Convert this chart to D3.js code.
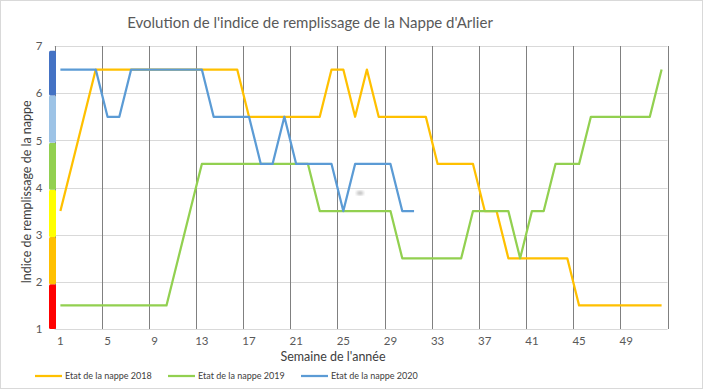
<!DOCTYPE html>
<html>
<head>
<meta charset="utf-8">
<script src="https://cdn.jsdelivr.net/npm/d3@7"></script>
<style>
  html, body { margin: 0; padding: 0; background: #fff; }
  svg { display: block; font-family: Lato, "Noto Sans", sans-serif; }
</style>
</head>
<body>
<svg id="chart" width="704" height="390"></svg>
<script>
// ---------- DATA ----------
const weeks = d3.range(1, 53);
const xTickLabels = [1, 5, 9, 13, 17, 21, 25, 29, 33, 37, 41, 45, 49];
const yTickLabels = [1, 2, 3, 4, 5, 6, 7];
const seriesNames = ["Etat de la nappe 2018", "Etat de la nappe 2019", "Etat de la nappe 2020"];
const nappe2018 = [3.5, 4.5, 5.5, 6.5, 6.5, 6.5, 6.5, 6.5, 6.5, 6.5, 6.5, 6.5, 6.5, 6.5, 6.5, 6.5,
  5.5, 5.5, 5.5, 5.5, 5.5, 5.5, 5.5, 6.5, 6.5, 5.5, 6.5, 5.5, 5.5, 5.5, 5.5, 5.5,
  4.5, 4.5, 4.5, 4.5, 3.5, 3.5, 2.5, 2.5, 2.5, 2.5, 2.5, 2.5, 1.5, 1.5, 1.5, 1.5, 1.5, 1.5, 1.5, 1.5];
const nappe2019 = [1.5, 1.5, 1.5, 1.5, 1.5, 1.5, 1.5, 1.5, 1.5, 1.5, 2.5, 3.5, 4.5, 4.5, 4.5, 4.5,
  4.5, 4.5, 4.5, 4.5, 4.5, 4.5, 3.5, 3.5, 3.5, 3.5, 3.5, 3.5, 3.5, 2.5, 2.5, 2.5,
  2.5, 2.5, 2.5, 3.5, 3.5, 3.5, 3.5, 2.5, 3.5, 3.5, 4.5, 4.5, 4.5, 5.5, 5.5, 5.5, 5.5, 5.5, 5.5, 6.5];
const nappe2020 = [6.5, 6.5, 6.5, 6.5, 5.5, 5.5, 6.5, 6.5, 6.5, 6.5, 6.5, 6.5, 6.5, 5.5, 5.5, 5.5,
  5.5, 4.5, 4.5, 5.5, 4.5, 4.5, 4.5, 4.5, 3.5, 4.5, 4.5, 4.5, 4.5, 3.5, 3.5];
const seriesColors = ["#FFC000", "#92D050", "#5B9BD5"];
// colour scale bands along the y axis (from, to, colour)
const bandFrom = [1, 1.95, 2.95, 3.95, 4.95, 5.95];
const bandTo = [1.95, 2.95, 3.95, 4.95, 5.95, 6.9];
const bandColors = ["#FF0000", "#FFC000", "#FFFF00", "#92D050", "#9DC3E6", "#4472C4"];

// ---------- LAYOUT ----------
const svg = d3.select("#chart");
const textColor = "#595959";
const plot = { left: 54.5, right: 667.5, top: 46, bottom: 329 };

svg.append("rect").attr("x", 0.5).attr("y", 0.5).attr("width", 702).attr("height", 388)
  .attr("fill", "#fff").attr("stroke", "#D9D9D9");

const x = d3.scaleBand().domain(weeks).range([plot.left, plot.right]).paddingInner(0).paddingOuter(0);
const y = d3.scaleLinear().domain([1, 7]).range([plot.bottom, plot.top]);
const cx = w => x(w) + x.bandwidth() / 2;

// horizontal gridlines
svg.append("g").selectAll("line").data(yTickLabels).join("line")
  .attr("x1", plot.left).attr("x2", plot.right)
  .attr("y1", d => Math.round(y(d)) + 0.5).attr("y2", d => Math.round(y(d)) + 0.5)
  .attr("stroke", "#D9D9D9").attr("stroke-width", 1);

// vertical gridlines every 4 weeks (category boundaries)
const vBounds = weeks.filter(w => (w - 1) % 4 === 0).map(w => x(w)).concat([x(52) + x.bandwidth()]);
svg.append("g").selectAll("line").data(vBounds).join("line")
  .attr("x1", d => Math.round(d) + 0.5).attr("x2", d => Math.round(d) + 0.5)
  .attr("y1", plot.top).attr("y2", plot.bottom)
  .attr("stroke", "#808080").attr("stroke-width", 1);

// y axis labels
const yAxis = d3.axisLeft(y).tickValues(yTickLabels).tickSize(0).tickPadding(12).tickFormat(d3.format("d"));
const gy = svg.append("g").attr("transform", `translate(${plot.left},0)`).call(yAxis);
gy.select(".domain").remove();
gy.selectAll("text").attr("fill", textColor).attr("font-size", 11.5).attr("font-family", "Lato, 'Noto Sans', sans-serif");

// x axis labels
const xAxis = d3.axisBottom(x).tickValues(xTickLabels).tickSize(0).tickPadding(8);
const gx = svg.append("g").attr("transform", `translate(0,${plot.bottom})`).call(xAxis);
gx.select(".domain").remove();
gx.selectAll("text").attr("fill", textColor).attr("font-size", 11.5).attr("font-family", "Lato, 'Noto Sans', sans-serif");

// colour bands on y axis
svg.append("g").selectAll("rect").data(bandColors).join("rect")
  .attr("x", 49).attr("width", 7)
  .attr("y", (d, i) => y(bandTo[i]))
  .attr("height", (d, i) => y(bandFrom[i]) - y(bandTo[i]))
  .attr("rx", 1.5)
  .attr("fill", d => d);

// series lines
const line = d3.line().x((d, i) => cx(weeks[i])).y(d => y(d));
const allSeries = [nappe2018, nappe2019, nappe2020];
svg.append("g").selectAll("path").data(allSeries).join("path")
  .attr("d", d => line(d))
  .attr("fill", "none")
  .attr("stroke", (d, i) => seriesColors[i])
  .attr("stroke-width", 2.25)
  .attr("stroke-linejoin", "round");

// small grey smudge seen in reference
const defs = svg.append("defs");
defs.append("filter").attr("id", "blur").append("feGaussianBlur").attr("stdDeviation", 1.5);
svg.append("ellipse").attr("cx", 360).attr("cy", 193).attr("rx", 3.5).attr("ry", 2)
  .attr("fill", "#bbb").attr("filter", "url(#blur)");

// title
svg.append("text").attr("x", 310).attr("y", 28).attr("text-anchor", "middle")
  .attr("fill", textColor).attr("font-size", 15)
  .text("Evolution de l'indice de remplissage de la Nappe d'Arlier");

// axis titles
svg.append("text").attr("x", 333).attr("y", 361).attr("text-anchor", "middle")
  .attr("fill", "#404040").attr("font-size", 12.5)
  .text("Semaine de l'année");
svg.append("text").attr("transform", "translate(31,192) rotate(-90)").attr("text-anchor", "middle")
  .attr("fill", "#404040").attr("font-size", 12.5)
  .text("Indice de remplissage de la nappe");

// legend
const legendX = [35, 168, 301];
const lg = svg.append("g").selectAll("g").data(seriesNames).join("g")
  .attr("transform", (d, i) => `translate(${legendX[i]},376)`);
lg.append("line").attr("x1", 0).attr("x2", 27).attr("y1", 0).attr("y2", 0)
  .attr("stroke", (d, i) => seriesColors[i]).attr("stroke-width", 2.25);
lg.append("text").attr("x", 30).attr("y", 3).attr("font-size", 9).attr("fill", "#404040")
  .text(d => d);
</script>
</body>
</html>
